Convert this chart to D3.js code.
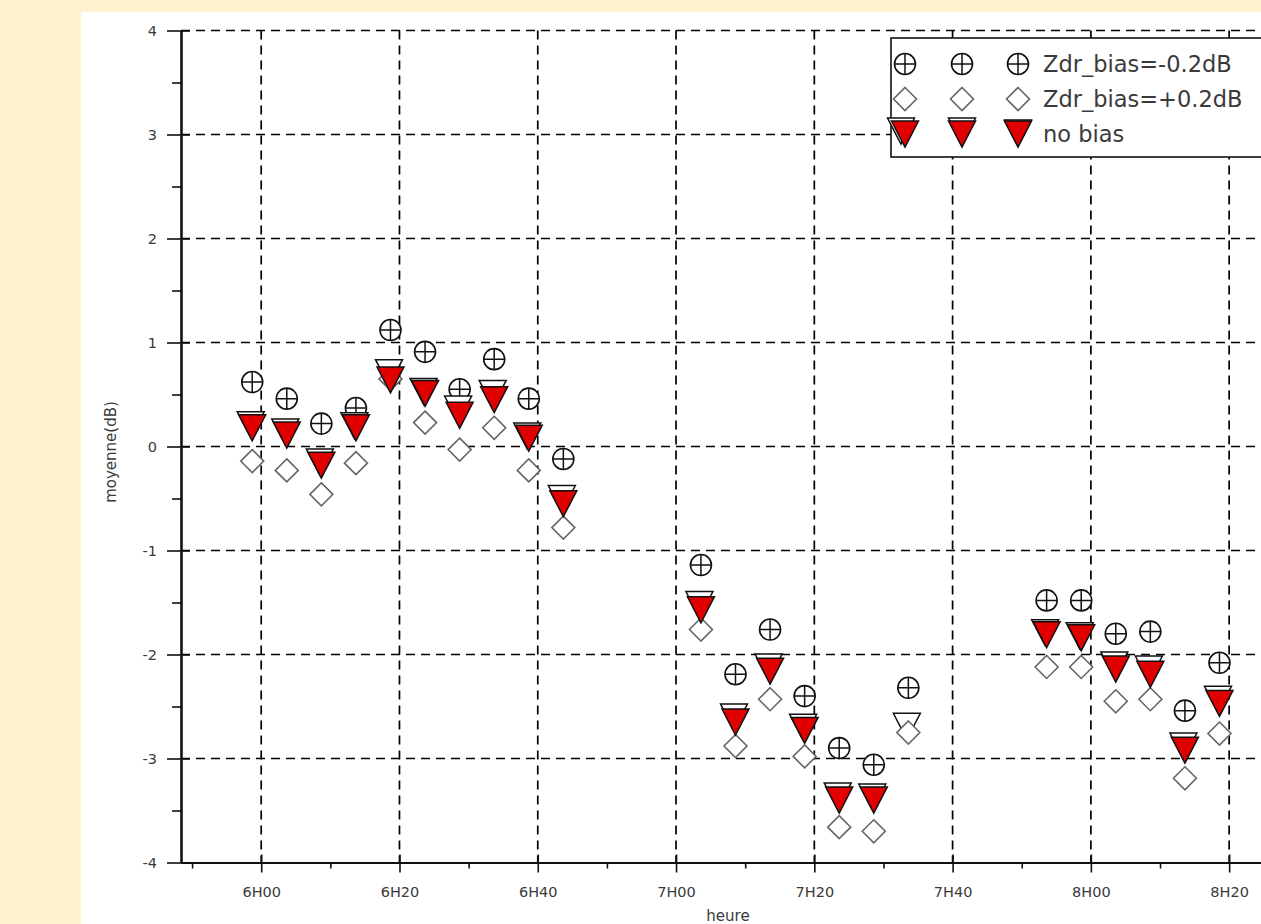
<!DOCTYPE html>
<html>
<head>
<meta charset="utf-8">
<script src="https://cdn.jsdelivr.net/npm/d3@7"></script>
<style>
  body { margin: 0; background: #fff2cc; }
  text { font-family: "DejaVu Sans", sans-serif; }
</style>
</head>
<body>
<div id="chart"></div>
<script>
// minutes after 6H00
var times = [-1.3, 3.7, 8.7, 13.7, 18.7, 23.7, 28.7, 33.7, 38.7, 43.7,
             63.6, 68.6, 73.6, 78.6, 83.6, 88.6, 93.6,
             113.6, 118.6, 123.6, 128.6, 133.6, 138.6];
var biasNeg = [0.62, 0.46, 0.22, 0.37, 1.12, 0.91, 0.55, 0.84, 0.46, -0.12,
               -1.14, -2.19, -1.76, -2.40, -2.90, -3.06, -2.32,
               -1.48, -1.48, -1.80, -1.78, -2.54, -2.08];
var biasPos = [-0.14, -0.23, -0.46, -0.16, 0.65, 0.23, -0.03, 0.18, -0.23, -0.78,
               -1.76, -2.88, -2.43, -2.98, -3.66, -3.70, -2.75,
               -2.12, -2.12, -2.45, -2.43, -3.19, -2.76];
var noBias = [0.18, 0.11, -0.18, 0.18, 0.64, 0.51, 0.30, 0.45, 0.08, -0.55,
              -1.57, -2.65, -2.16, -2.73, -3.40, -3.40, null,
              -1.81, -1.84, -2.14, -2.19, -2.92, -2.47];
var noBiasW = [0.21, 0.14, -0.15, 0.20, 0.71, 0.53, 0.36, 0.51, 0.10, -0.50,
               -1.52, -2.60, -2.12, -2.70, -3.36, -3.37, -2.69,
               -1.79, -1.82, -2.10, -2.14, -2.88, -2.43];
var legendLabels = ["Zdr_bias=-0.2dB", "Zdr_bias=+0.2dB", "no bias"];
var xMajor = [0, 20, 40, 60, 80, 100, 120, 140];
var xMinor = [-10, 10, 30, 50, 70, 90, 110, 130, 150];
var yMajor = [-4, -3, -2, -1, 0, 1, 2, 3, 4];
var yMinor = [-3.5, -2.5, -1.5, -0.5, 0.5, 1.5, 2.5, 3.5];

var W = 1261, H = 924;
var svg = d3.select("#chart").append("svg").attr("width", W).attr("height", H);
svg.append("rect").attr("width", W).attr("height", H).attr("fill", "#fff2cc");
svg.append("rect").attr("x", 81).attr("y", 12).attr("width", W - 81).attr("height", H - 12).attr("fill", "#fff");

var x = d3.scaleLinear().domain([-11.6, 148.8]).range([181, 1290]);
var y = d3.scaleLinear().domain([-4, 4]).range([862.5, 30.5]);

var fmt = function(m) {
  var h = 6 + Math.floor(m / 60), mm = m - Math.floor(m / 60) * 60;
  return h + "H" + (mm < 10 ? "0" : "") + mm;
};

// grid
var grid = svg.append("g").attr("stroke", "#000").attr("stroke-width", 1.7).attr("stroke-dasharray", "9,6");
grid.selectAll(".vg").data(xMajor).enter().append("line")
  .attr("x1", d => x(d)).attr("x2", d => x(d)).attr("y1", y(4)).attr("y2", y(-4));
grid.selectAll(".hg").data(yMajor.filter(d => d > -4)).enter().append("line")
  .attr("x1", x.range()[0]).attr("x2", W).attr("y1", d => y(d)).attr("y2", d => y(d));

// axes
var axStyle = function(g) {
  g.select(".domain").attr("stroke", "#111").attr("stroke-width", 1.8);
  g.selectAll(".tick line").attr("stroke", "#111").attr("stroke-width", 1.6);
  g.selectAll("text").attr("fill", "#3a3a3a").style("font-size", "14.5px");
};
var bottom = y(-4), left = x.range()[0];

svg.append("g").attr("transform", "translate(0," + bottom + ")")
  .call(d3.axisBottom(x).tickValues(xMinor).tickSize(6).tickFormat("").tickSizeOuter(0)).call(axStyle);
svg.append("g").attr("transform", "translate(0," + bottom + ")")
  .call(d3.axisTop(x).tickValues(xMajor).tickSize(8).tickFormat("").tickSizeOuter(0)).call(axStyle);
svg.append("g").attr("transform", "translate(0," + bottom + ")")
  .call(d3.axisBottom(x).tickValues(xMajor).tickSize(10).tickPadding(14).tickFormat(fmt).tickSizeOuter(0)).call(axStyle);

svg.append("g").attr("transform", "translate(" + left + ",0)")
  .call(d3.axisLeft(y).tickValues(yMinor).tickSize(9).tickFormat("").tickSizeOuter(0)).call(axStyle);
svg.append("g").attr("transform", "translate(" + left + ",0)")
  .call(d3.axisRight(y).tickValues(yMajor).tickSize(9).tickFormat("").tickSizeOuter(0)).call(axStyle);
svg.append("g").attr("transform", "translate(" + left + ",0)")
  .call(d3.axisLeft(y).tickValues(yMajor).tickSize(14).tickPadding(10).tickFormat(d => String(d)).tickSizeOuter(0)).call(axStyle);

svg.append("text").attr("transform", "translate(116,452) rotate(-90)")
  .attr("text-anchor", "middle").attr("fill", "#3a3a3a").style("font-size", "15px").text("moyenne(dB)");
svg.append("text").attr("x", 728).attr("y", 921)
  .attr("text-anchor", "middle").attr("fill", "#3a3a3a").style("font-size", "15px").text("heure");

// marker shapes
var R = 10.5, D = 11.5, TW = 13.5, TH = 26;
var drawCircle = function(g, cx, cy) {
  g.append("circle").attr("cx", cx).attr("cy", cy).attr("r", R)
    .attr("fill", "#fff").attr("stroke", "#111").attr("stroke-width", 1.6);
  g.append("path").attr("d", "M" + (cx - R) + "," + cy + "H" + (cx + R) + "M" + cx + "," + (cy - R) + "V" + (cy + R))
    .attr("stroke", "#111").attr("stroke-width", 1.5);
};
var drawDiamond = function(g, cx, cy) {
  g.append("path").attr("d", "M" + cx + "," + (cy - D) + "L" + (cx + D) + "," + cy + "L" + cx + "," + (cy + D) + "L" + (cx - D) + "," + cy + "Z")
    .attr("fill", "#fff").attr("stroke", "#666").attr("stroke-width", 1.6);
};
var drawTri = function(g, cx, cy, fill) {
  g.append("path").attr("d", "M" + (cx - TW) + "," + (cy - TH / 2) + "L" + (cx + TW) + "," + (cy - TH / 2) + "L" + cx + "," + (cy + TH / 2) + "Z")
    .attr("fill", fill).attr("stroke", "#111").attr("stroke-width", 1.5);
};

var marks = svg.append("g");
times.forEach(function(t, i) { drawCircle(marks, x(t), y(biasNeg[i])); });
times.forEach(function(t, i) { drawTri(marks, x(t) - 1.5, y(noBiasW[i]), "#fff"); });
times.forEach(function(t, i) { drawDiamond(marks, x(t), y(biasPos[i])); });
times.forEach(function(t, i) { if (noBias[i] != null) drawTri(marks, x(t), y(noBias[i]), "#e00000"); });

// legend
var lg = svg.append("g");
lg.append("rect").attr("x", 891).attr("y", 38).attr("width", 420).attr("height", 119)
  .attr("fill", "#fff").attr("stroke", "#111").attr("stroke-width", 1.6);
var lx = [905, 962, 1018], ly = [64, 99, 134];
lx.forEach(function(px) { drawCircle(lg, px, ly[0]); });
lx.forEach(function(px) { drawDiamond(lg, px, ly[1]); });
lx.forEach(function(px, i) { drawTri(lg, px - (i == 0 ? 4 : 0), ly[2] - (i < 2 ? 3 : 1), "#fff"); });
lx.forEach(function(px) { drawTri(lg, px, ly[2], "#e00000"); });
legendLabels.forEach(function(s, i) {
  lg.append("text").attr("x", 1043).attr("y", ly[i]).attr("dy", "0.35em")
    .attr("fill", "#3a3a3a").style("font-size", "22.5px").text(s);
});
</script>
</body>
</html>
